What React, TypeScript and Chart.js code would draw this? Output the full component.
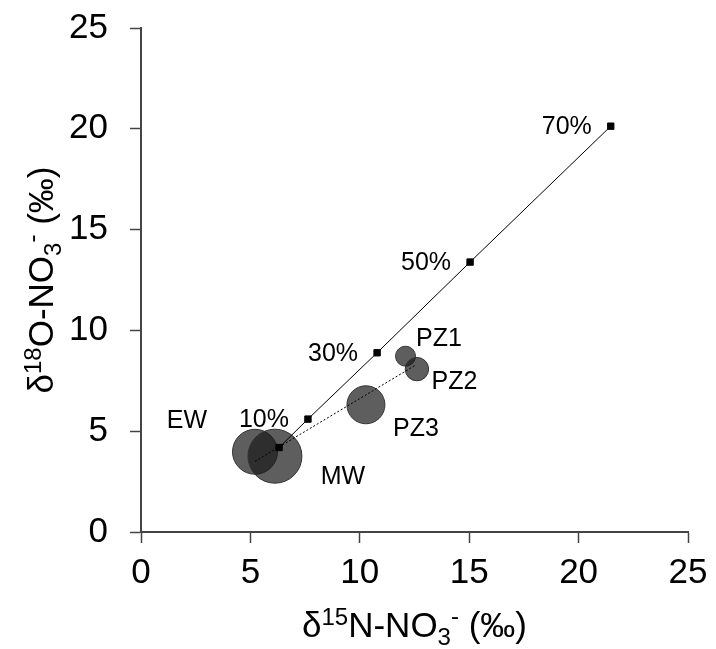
import React, { useEffect, useRef } from "react";
import { Chart, registerables } from "chart.js";

Chart.register(...registerables);

// ---- data ----
const bubbleNames = ["EW", "MW", "PZ3", "PZ1", "PZ2"];
const bubbleX = [5.21, 6.12, 10.28, 12.09, 12.61];
const bubbleY = [3.98, 3.76, 6.31, 8.72, 8.08];
const bubbleR = [22.5, 27, 19, 10, 11.7];

const mixX = [6.31, 7.63, 10.79, 15.04, 21.47];
const mixY = [4.19, 5.6, 8.89, 13.39, 20.13];
const mixLabels = ["", "10%", "30%", "50%", "70%"];

const dottedX = [5.21, 12.52];
const dottedY = [3.5, 8.26];

const xTicks = [0, 5, 10, 15, 20, 25];
const yTicks = [0, 5, 10, 15, 20, 25];

// ---- style ----
const FONT = '"Liberation Sans", Arial, sans-serif';
const AXIS = "#444444";
const bubbleLabelOffsets: Record<string, [number, number]> = {
  EW: [-68, -31],
  MW: [68, 21],
  PZ3: [50, 24],
  PZ1: [33.5, -17.5],
  PZ2: [37.5, 13.5],
};

type Part = { t: string; size: number; dy: number };

function drawRich(ctx: CanvasRenderingContext2D, parts: Part[], cx: number, baseY: number) {
  let total = 0;
  const widths: number[] = [];
  for (const p of parts) {
    ctx.font = `${p.size}px ${FONT}`;
    const w = ctx.measureText(p.t).width;
    widths.push(w);
    total += w;
  }
  let x = cx - total / 2;
  ctx.textAlign = "left";
  ctx.textBaseline = "alphabetic";
  parts.forEach((p, i) => {
    ctx.font = `${p.size}px ${FONT}`;
    ctx.fillText(p.t, x, baseY + p.dy);
    x += widths[i];
  });
}

const xTitle: Part[] = [
  { t: "δ", size: 35, dy: 0 },
  { t: "15", size: 24, dy: -12 },
  { t: "N-NO", size: 35, dy: 0 },
  { t: "3", size: 24, dy: 8 },
  { t: "-", size: 24, dy: -13 },
  { t: " (‰)", size: 35, dy: 0 },
];
const yTitle: Part[] = [
  { t: "δ", size: 35, dy: 0 },
  { t: "18", size: 24, dy: -12 },
  { t: "O-NO", size: 35, dy: 0 },
  { t: "3", size: 24, dy: 8 },
  { t: "-", size: 24, dy: -13 },
  { t: " (‰)", size: 35, dy: 0 },
];

const annotationPlugin = {
  id: "annots",
  afterDatasetsDraw(chart: any) {
    const ctx: CanvasRenderingContext2D = chart.ctx;
    const xs = chart.scales.x;
    const ys = chart.scales.y;
    ctx.save();
    ctx.fillStyle = "#000";
    ctx.font = `25px ${FONT}`;
    ctx.textBaseline = "middle";
    mixLabels.forEach((lab, i) => {
      if (!lab) return;
      const px = xs.getPixelForValue(mixX[i]);
      const py = ys.getPixelForValue(mixY[i]);
      ctx.textAlign = "right";
      ctx.fillText(lab, px - 19, py + 1);
    });
    bubbleNames.forEach((name, i) => {
      const px = xs.getPixelForValue(bubbleX[i]);
      const py = ys.getPixelForValue(bubbleY[i]);
      const off = bubbleLabelOffsets[name] || [0, 0];
      ctx.textAlign = "center";
      ctx.fillText(name, px + off[0], py + off[1]);
    });
    ctx.restore();

    const area = chart.chartArea;
    ctx.save();
    ctx.fillStyle = "#000";
    drawRich(ctx, xTitle, (area.left + area.right) / 2, area.bottom + 105);
    ctx.translate(area.left - 88, (area.top + area.bottom) / 2);
    ctx.rotate(-Math.PI / 2);
    drawRich(ctx, yTitle, 0, 0);
    ctx.restore();
  },
};

export default function App() {
  const ref = useRef<HTMLCanvasElement | null>(null);
  useEffect(() => {
    if (!ref.current) return;
    const axisCommon = (ticks: number[]) => ({
      type: "linear" as const,
      min: ticks[0],
      max: ticks[ticks.length - 1],
      afterBuildTicks: (scale: any) => {
        scale.ticks = ticks.map((v) => ({ value: v }));
      },
      grid: {
        display: true,
        drawOnChartArea: false,
        drawTicks: true,
        tickLength: 11,
        tickWidth: 1.5,
        tickColor: AXIS,
      },
      border: { display: true, color: AXIS, width: 2 },
    });
    const chart = new Chart(ref.current, {
      type: "bubble",
      data: {
        datasets: [
          {
            type: "line" as any,
            label: "mixing",
            data: mixX.map((x, i) => ({ x, y: mixY[i] })),
            borderColor: "#000",
            borderWidth: 1,
            pointStyle: "rect",
            pointRadius: 4.5,
            pointBorderWidth: 1,
            pointBackgroundColor: "#000",
            pointBorderColor: "#000",
            fill: false,
            tension: 0,
            order: 0,
          } as any,
          {
            type: "line" as any,
            label: "dotted",
            data: dottedX.map((x, i) => ({ x, y: dottedY[i] })),
            borderColor: "#000",
            borderWidth: 1,
            borderDash: [2, 2],
            pointRadius: 0,
            fill: false,
            order: 1,
          } as any,
          {
            label: "samples",
            data: bubbleX.map((x, i) => ({ x, y: bubbleY[i], r: bubbleR[i] })),
            backgroundColor: "rgba(25,25,25,0.7)",
            borderColor: "#333",
            borderWidth: 1,
            order: 2,
          },
        ],
      },
      options: {
        animation: false,
        responsive: true,
        maintainAspectRatio: false,
        events: [],
        layout: { padding: { top: 23, right: 28, left: 0, bottom: 0 } },
        plugins: {
          legend: { display: false },
          tooltip: { enabled: false },
        },
        scales: {
          x: {
            ...axisCommon(xTicks),
            position: "bottom",
            afterFit: (scale: any) => {
              scale.height = 117;
              scale.paddingLeft = 0;
              scale.paddingRight = 0;
            },
            ticks: {
              color: "#000",
              font: { family: FONT, size: 35 },
              padding: 9,
              maxRotation: 0,
            },
          } as any,
          y: {
            ...axisCommon(yTicks),
            position: "left",
            afterFit: (scale: any) => {
              scale.width = 141;
              scale.paddingTop = 0;
              scale.paddingBottom = 0;
            },
            ticks: {
              color: "#000",
              font: { family: FONT, size: 35 },
              padding: 22,
            },
          } as any,
        },
      },
      plugins: [annotationPlugin],
    });
    return () => chart.destroy();
  }, []);
  return (
    <div style={{ position: "absolute", left: 0, top: 0, width: 716, height: 649, background: "#fff" }}>
      <canvas ref={ref} />
    </div>
  );
}
